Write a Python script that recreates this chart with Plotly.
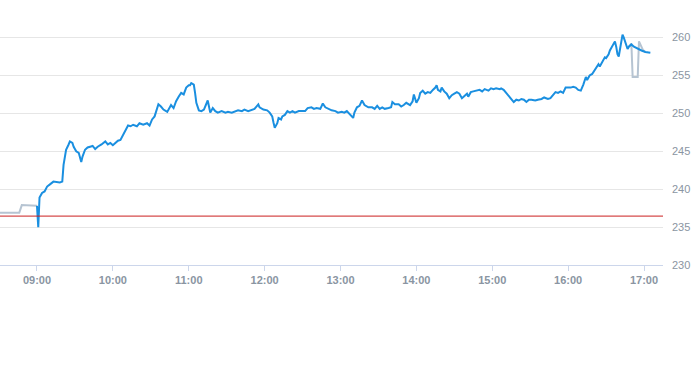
import plotly.graph_objects as go

DAY = "2024-01-02 "

# Regular session (blue)
session_times = [
    "09:00", "09:01", "09:02", "09:04", "09:06", "09:08", "09:10", "09:12", "09:13", "09:18",
    "09:20", "09:21", "09:23", "09:25", "09:26", "09:28", "09:29", "09:31", "09:33", "09:35",
    "09:36", "09:38", "09:40", "09:42", "09:44", "09:46", "09:48", "09:51", "09:54", "09:56",
    "09:58", "10:00", "10:02", "10:04", "10:06", "10:08", "10:10", "10:12", "10:14", "10:16",
    "10:19", "10:21", "10:24", "10:27", "10:29", "10:31", "10:33", "10:35", "10:36", "10:38",
    "10:40", "10:43", "10:44", "10:46", "10:48", "10:50", "10:52", "10:54", "10:56", "10:58",
    "11:00", "11:01", "11:02", "11:04", "11:05", "11:06", "11:08", "11:10", "11:12", "11:14",
    "11:15", "11:16", "11:17", "11:19", "11:21", "11:23", "11:26", "11:29", "11:31", "11:34",
    "11:37", "11:39", "11:42", "11:44", "11:47", "11:50", "11:52", "11:55", "11:56", "11:59",
    "12:02", "12:04", "12:06", "12:07", "12:08", "12:10", "12:11", "12:13", "12:14", "12:16",
    "12:18", "12:20", "12:22", "12:24", "12:27", "12:29", "12:32", "12:34", "12:37", "12:39",
    "12:41", "12:44", "12:46", "12:48", "12:50", "12:53", "12:56", "12:58", "13:01", "13:03",
    "13:05", "13:08", "13:10", "13:11", "13:13", "13:15", "13:17", "13:19", "13:22", "13:25",
    "13:27", "13:29", "13:31", "13:33", "13:35", "13:38", "13:40", "13:41", "13:43", "13:46",
    "13:48", "13:50", "13:52", "13:55", "13:57", "13:58", "14:00", "14:02", "14:03", "14:05",
    "14:07", "14:09", "14:11", "14:13", "14:15", "14:16", "14:17", "14:19", "14:20", "14:22",
    "14:24", "14:26", "14:28", "14:30", "14:32", "14:34", "14:36", "14:38", "14:40", "14:41",
    "14:43", "14:45", "14:48", "14:50", "14:52", "14:54", "14:57", "14:59", "15:01", "15:03",
    "15:06", "15:07", "15:09", "15:11", "15:13", "15:15", "15:17", "15:19", "15:21", "15:23",
    "15:25", "15:27", "15:29", "15:31", "15:34", "15:36", "15:39", "15:41", "15:44", "15:46",
    "15:48", "15:50", "15:52", "15:54", "15:56", "15:58", "16:00", "16:02", "16:04", "16:06",
    "16:08", "16:10", "16:12", "16:14", "16:15", "16:17", "16:19", "16:21", "16:23", "16:24",
    "16:25", "16:27", "16:29", "16:30", "16:32", "16:33", "16:34", "16:36", "16:37", "16:38",
    "16:39", "16:40", "16:41", "16:42", "16:43", "16:44", "16:46", "16:47", "16:48", "16:50",
    "16:52", "16:55", "16:58", "17:01", "17:03", "17:05",
]
session_prices = [
    237.8, 235.0, 238.9, 239.5, 239.7, 240.35, 240.6, 240.8, 241.0, 240.9,
    241.0, 243.2, 245.2, 245.9, 246.3, 246.1, 245.6, 245.0, 244.8, 243.6,
    244.3, 245.2, 245.5, 245.6, 245.7, 245.3, 245.6, 245.9, 246.3, 245.9,
    246.1, 245.8, 246.1, 246.4, 246.5, 247.2, 247.8, 248.4, 248.3, 248.5,
    248.3, 248.7, 248.5, 248.7, 248.4, 249.2, 249.6, 250.7, 251.2, 250.9,
    250.5, 250.2, 250.5, 251.1, 250.7, 251.6, 252.2, 252.7, 252.5, 253.4,
    253.7, 253.7, 254.0, 253.8, 252.7, 251.4, 250.4, 250.3, 250.5, 251.5,
    251.7, 250.9, 250.1, 250.7, 250.3, 250.1, 250.3, 250.1, 250.2, 250.1,
    250.3, 250.4, 250.3, 250.5, 250.3, 250.5, 250.6, 251.2, 250.8, 250.5,
    250.4, 250.1, 249.6, 248.8, 248.1, 248.7, 249.4, 249.2, 249.6, 249.8,
    250.3, 250.1, 250.3, 250.1, 250.3, 250.3, 250.3, 250.7, 250.8, 250.6,
    250.7, 250.6, 251.3, 250.8, 250.6, 250.4, 250.3, 250.1, 250.2, 250.1,
    250.3, 249.8, 249.4, 250.1, 250.8, 251.0, 251.7, 251.1, 250.8, 250.8,
    250.6, 251.0, 250.6, 250.8, 250.6, 250.7, 250.8, 251.5, 251.2, 251.2,
    250.9, 251.1, 251.4, 251.1, 251.6, 252.5, 251.4, 252.0, 252.7, 253.0,
    252.6, 252.8, 252.7, 253.1, 253.4, 253.7, 253.1, 252.9, 253.4, 252.9,
    252.6, 252.0, 252.4, 252.6, 252.8, 252.6, 252.0, 252.3, 252.6, 252.2,
    252.8, 252.9, 253.0, 253.1, 252.9, 253.2, 253.0, 253.3, 253.2, 253.3,
    253.2, 253.3, 253.1, 252.7, 252.2, 251.8, 251.5, 251.8, 251.7, 251.9,
    251.8, 251.5, 251.8, 251.8, 251.7, 251.8, 251.9, 252.1, 251.9, 252.0,
    252.4, 252.8, 252.7, 252.9, 252.7, 253.4, 253.4, 253.4, 253.5, 253.4,
    253.1, 253.0, 253.8, 254.8, 254.4, 255.0, 255.2, 255.8, 256.2, 256.5,
    256.2, 256.9, 257.4, 257.3, 257.8, 258.3, 258.6, 259.0, 259.5, 258.8,
    257.8, 257.5, 258.4, 259.7, 260.4, 260.0, 259.1, 258.5, 258.8, 259.1,
    258.8, 258.5, 258.3, 258.1, 258.0, 258.0,
]

# Extended hours (gray)
pre_times = ["08:30", "08:46", "08:48", "09:00"]
pre_prices = [236.9, 236.9, 237.9, 237.8]
post_times = ["16:48", "16:50", "16:51", "16:55", "16:56", "16:59", "17:01"]
post_prices = [258.8, 259.2, 254.8, 254.8, 259.5, 258.4, 258.1]

previous_close = 236.45

x_ticks = ["09:00", "10:00", "11:00", "12:00", "13:00", "14:00", "15:00", "16:00", "17:00"]
y_ticks = [230, 235, 240, 245, 250, 255, 260]

BLUE = "#1a8fe0"
GRAY = "#b6c4d2"
LABEL = "#8a95a2"

fig = go.Figure()
fig.add_trace(go.Scatter(x=[DAY + t for t in pre_times], y=pre_prices, mode="lines",
                         line=dict(color=GRAY, width=2), hoverinfo="skip", showlegend=False))
fig.add_trace(go.Scatter(x=[DAY + t for t in post_times], y=post_prices, mode="lines",
                         line=dict(color=GRAY, width=2), hoverinfo="skip", showlegend=False))
fig.add_trace(go.Scatter(x=[DAY + t for t in session_times], y=session_prices, mode="lines",
                         line=dict(color=BLUE, width=2), showlegend=False))

fig.add_hline(y=previous_close, line=dict(color="#cc1f1f", width=1))

fig.update_layout(
    width=693, height=365,
    margin=dict(l=0, r=30, t=30, b=100),
    paper_bgcolor="white", plot_bgcolor="white",
    font=dict(family="Liberation Sans, Arial", size=11, color=LABEL),
    xaxis=dict(
        type="date",
        range=[DAY + "08:30:45", DAY + "17:15:00"],
        tickvals=[DAY + t for t in x_ticks],
        ticktext=x_ticks,
        showgrid=False,
        showline=True, linecolor="#ccd6eb", linewidth=1,
        ticks="outside", ticklen=5, tickcolor="#ccd6eb",
        tickfont=dict(size=11, color=LABEL, weight="bold"),
        zeroline=False, fixedrange=True,
    ),
    yaxis=dict(
        side="right",
        range=[230, 261],
        tickvals=y_ticks,
        showgrid=True, gridcolor="#e6e6e6", gridwidth=1,
        zeroline=False, showline=False,
        ticks="", ticklabelstandoff=8,
        tickfont=dict(size=11, color=LABEL),
        fixedrange=True,
    ),
)

fig.write_html("out.html")
